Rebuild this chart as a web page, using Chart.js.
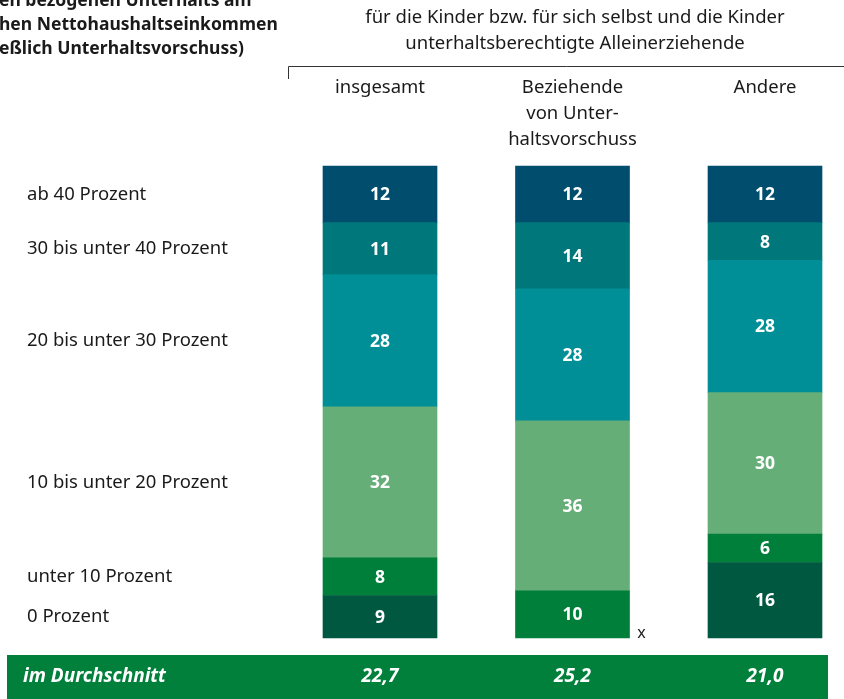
<!DOCTYPE html>
<html>
<head>
<meta charset="utf-8">
<script src="https://cdn.jsdelivr.net/npm/chart.js@4.4.1/dist/chart.umd.min.js"></script>
<style>
    html, body { margin: 0; padding: 0; background: #fff; overflow: hidden; }
    #wrap { position: relative; width: 844px; height: 699px; }
</style>
</head>
<body>
<div id="wrap"><canvas id="myChart" width="844" height="699"></canvas></div>
<script>
// columns and their header lines
const columns = ["insgesamt", "Beziehende von Unterhaltsvorschuss", "Andere"];
const columnHeads = [["insgesamt"], ["Beziehende", "von Unter-", "haltsvorschuss"], ["Andere"]];
const averages = ["22,7", "25,2", "21,0"];

// stacked bottom to top
const bands = ["0 Prozent", "unter 10 Prozent", "10 bis unter 20 Prozent",
    "20 bis unter 30 Prozent", "30 bis unter 40 Prozent", "ab 40 Prozent"];
const share0 = [9, null, 16];
const shareUnder10 = [8, 10, 6];
const share10to20 = [32, 36, 30];
const share20to30 = [28, 28, 28];
const share30to40 = [11, 14, 8];
const share40plus = [12, 12, 12];

const titleLines = ["en bezogenen Unterhalts am", "hen Nettohaushaltseinkommen", "eßlich Unterhaltsvorschuss)"];
const groupHead = ["für die Kinder bzw. für sich selbst und die Kinder", "unterhaltsberechtigte Alleinerziehende"];

const colors = ["#005840", "#007f3a", "#66ae78", "#008f96", "#00777b", "#004d6d"];
const font = "'Noto Sans', sans-serif";

const extras = {
    id: "extras",
    beforeDraw(chart) {
        const c = chart.ctx;
        const x = chart.scales.x;
        c.save();
        // average band
        c.fillStyle = "#00803a";
        c.fillRect(7, 655, 821, 44);
        c.fillStyle = "#fff";
        c.font = "italic bold 19px " + font;
        c.textBaseline = "middle";
        c.textAlign = "left";
        c.fillText("im Durchschnitt", 23, 677);
        c.textAlign = "center";
        averages.forEach((v, i) => c.fillText(v, x.getPixelForValue(i), 677));

        // title (cut at the left edge)
        c.fillStyle = "#1a1a1a";
        c.font = "bold 17.5px " + font;
        c.textAlign = "left";
        titleLines.forEach((t, i) => c.fillText(t, -1, 1 + i * 24));

        // group header and bracket
        c.font = "18.5px " + font;
        c.textAlign = "center";
        groupHead.forEach((t, i) => c.fillText(t, 575, 18 + i * 26));
        c.strokeStyle = "#333";
        c.lineWidth = 1;
        c.beginPath();
        c.moveTo(288.5, 79);
        c.lineTo(288.5, 66.5);
        c.lineTo(844, 66.5);
        c.stroke();
        columnHeads.forEach((lines, i) => {
            lines.forEach((t, j) => c.fillText(t, x.getPixelForValue(i), 88 + j * 26));
        });
        c.restore();
    },
    afterDatasetsDraw(chart) {
        const c = chart.ctx;
        const x = chart.scales.x;
        const y = chart.scales.y;
        c.save();
        c.textBaseline = "middle";
        chart.data.datasets.forEach((ds, d) => {
            const meta = chart.getDatasetMeta(d);
            // row labels next to the first column
            const first = meta.data[0];
            c.fillStyle = "#1a1a1a";
            c.font = "18.5px " + font;
            c.textAlign = "left";
            c.fillText(ds.label, 27, (first.y + first.base) / 2);
            ds.data.forEach((v, i) => {
                if (v === null) {
                    c.fillStyle = "#1a1a1a";
                    c.font = "16px " + font;
                    c.textAlign = "center";
                    c.fillText("x", x.getPixelForValue(i) + 69, y.getPixelForValue(0) - 5);
                    return;
                }
                const el = meta.data[i];
                c.fillStyle = "#fff";
                c.font = "bold 17.5px " + font;
                c.textAlign = "center";
                c.fillText(v, el.x, (el.y + el.base) / 2 + 1);
            });
        });
        c.restore();
    },
};

const seriesValues = [share0, shareUnder10, share10to20, share20to30, share30to40, share40plus];

new Chart(document.getElementById("myChart"), {
    type: "bar",
    data: {
        labels: columns,
        datasets: bands.map((b, i) => ({
            label: b,
            data: seriesValues[i],
            backgroundColor: colors[i],
            borderWidth: 0,
            barThickness: 114,
            clip: false,
        })),
    },
    options: {
        responsive: false,
        animation: false,
        layout: { padding: { left: 380, right: 844 - 765, top: 166, bottom: 699 - 638 } },
        plugins: { legend: { display: false }, tooltip: { enabled: false } },
        scales: {
            x: { stacked: true, display: false, offset: false },
            y: { stacked: true, display: false, min: 0, max: 100 },
        },
    },
    plugins: [extras],
});
</script>
</body>
</html>
